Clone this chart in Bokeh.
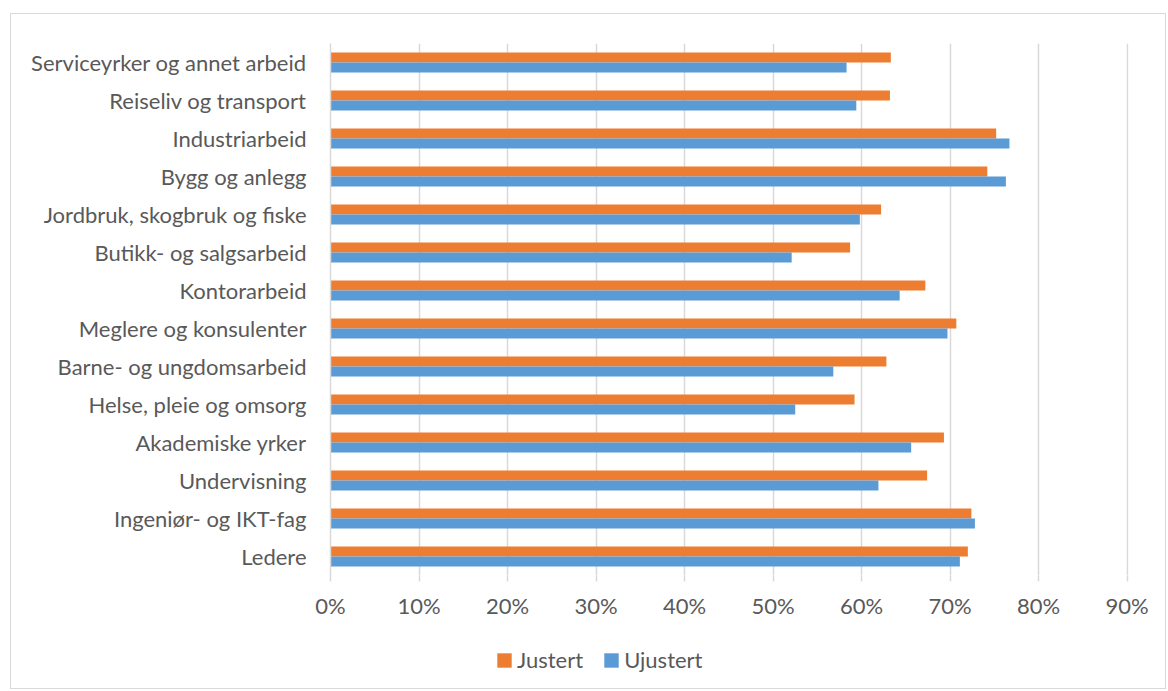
from bokeh.plotting import figure
from bokeh.layouts import column
from bokeh.models import (ColumnDataSource, FactorRange, Range1d, FixedTicker,
                          PrintfTickFormatter, Legend, LegendItem)
from bokeh.transform import dodge
from bokeh.embed import file_html
from bokeh.resources import INLINE

categories = [
    "Serviceyrker og annet arbeid",
    "Reiseliv og transport",
    "Industriarbeid",
    "Bygg og anlegg",
    "Jordbruk, skogbruk og fiske",
    "Butikk- og salgsarbeid",
    "Kontorarbeid",
    "Meglere og konsulenter",
    "Barne- og ungdomsarbeid",
    "Helse, pleie og omsorg",
    "Akademiske yrker",
    "Undervisning",
    "Ingeniør- og IKT-fag",
    "Ledere",
]
justert = [63.3, 63.2, 75.2, 74.2, 62.2, 58.7, 67.2, 70.7, 62.8, 59.2, 69.3, 67.4, 72.4, 72.0]
ujustert = [58.3, 59.4, 76.7, 76.3, 59.8, 52.1, 64.3, 69.7, 56.8, 52.5, 65.6, 61.9, 72.8, 71.1]
x_ticks = [0, 10, 20, 30, 40, 50, 60, 70, 80, 90]
series_names = ["Justert", "Ujustert"]

FONT = "Lato"
FS = "22px"
TXT = "#595959"
GRID = "#D9D9D9"
ORANGE = "#ED7D31"
BLUE = "#5B9BD5"

source = ColumnDataSource(dict(cat=categories, justert=justert, ujustert=ujustert))

p = figure(
    width=1154, height=616,
    y_range=FactorRange(factors=list(reversed(categories)), range_padding=0),
    x_range=Range1d(0, 90.15),
    output_backend="svg", toolbar_location=None,
    min_border_left=319, min_border_right=37, min_border_top=29, min_border_bottom=55,
)
p.outline_line_color = None

r1 = p.hbar(y=dodge("cat", 0.13, range=p.y_range), right="justert", left=0, height=0.26,
            source=source, fill_color=ORANGE, line_color=None)
r2 = p.hbar(y=dodge("cat", -0.13, range=p.y_range), right="ujustert", left=0, height=0.26,
            source=source, fill_color=BLUE, line_color=None)

p.xgrid.ticker = FixedTicker(ticks=x_ticks)
p.xgrid.grid_line_color = GRID
p.xgrid.grid_line_width = 1.5
p.ygrid.grid_line_color = None

xa = p.xaxis[0]
xa.ticker = FixedTicker(ticks=x_ticks)
xa.formatter = PrintfTickFormatter(format="%d%%")
xa.axis_line_color = None
xa.major_tick_line_color = GRID
xa.major_tick_line_width = 1.5
xa.major_tick_out = 6
xa.major_tick_in = 0
xa.minor_tick_line_color = None
xa.major_label_standoff = 10
xa.major_label_text_font = FONT
xa.major_label_text_font_size = FS
xa.major_label_text_color = TXT

ya = p.yaxis[0]
ya.axis_line_color = GRID
ya.axis_line_width = 1.5
ya.major_tick_line_color = None
ya.major_tick_out = 0
ya.major_tick_in = 0
ya.minor_tick_line_color = None
ya.major_label_standoff = 24
ya.major_label_text_font = FONT
ya.major_label_text_font_size = FS
ya.major_label_text_color = TXT

# legend strip below the chart (its frame is aligned with the chart frame)
lg = figure(
    width=1154, height=58,
    y_range=FactorRange(factors=list(reversed(categories)), range_padding=0),
    x_range=Range1d(0, 90.15),
    output_backend="svg", toolbar_location=None,
    x_axis_type=None, y_axis_type=None,
    min_border_left=319, min_border_right=37, min_border_top=0, min_border_bottom=0,
)
lg.outline_line_color = None
lg.xgrid.grid_line_color = None
lg.ygrid.grid_line_color = None
lr1 = lg.hbar(y="cat", right="justert", left=0, height=0.26, source=source,
              fill_color=ORANGE, line_color=None, visible=False)
lr2 = lg.hbar(y="cat", right="ujustert", left=0, height=0.26, source=source,
              fill_color=BLUE, line_color=None, visible=False)

legend = Legend(
    items=[LegendItem(label=series_names[0], renderers=[lr1]),
           LegendItem(label=series_names[1], renderers=[lr2])],
    orientation="horizontal",
    location=(165, 15),
    glyph_width=18, glyph_height=18,
    label_standoff=4, spacing=19, padding=0, margin=0,
    label_text_font=FONT, label_text_font_size=FS, label_text_color=TXT,
    border_line_color=None, background_fill_alpha=0,
    inactive_fill_alpha=0,
)
lg.add_layout(legend, "center")

layout = column(p, lg, spacing=0)
layout.styles = {"border": "1px solid #D9D9D9", "margin-left": "10px", "margin-top": "13px"}

open("out.html", "w").write(file_html(layout, INLINE))
